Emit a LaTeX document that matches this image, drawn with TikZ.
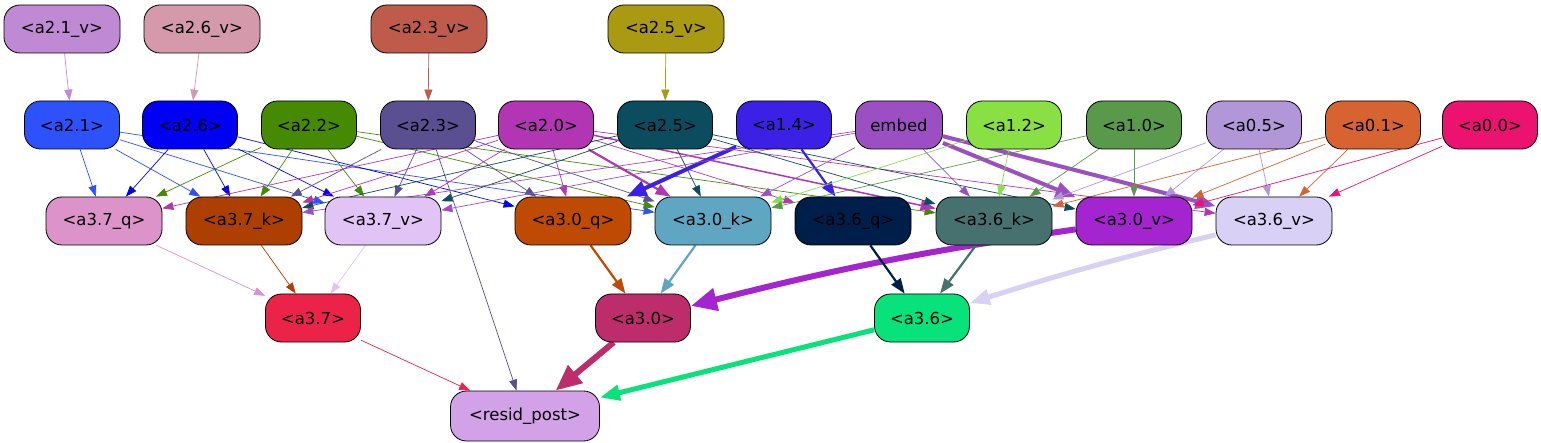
\documentclass[tikz,border=0pt]{standalone}
\usepackage{fontspec}
\setmainfont{DejaVu Sans}
\usetikzlibrary{arrows.meta,backgrounds}
\definecolor{c21v}{HTML}{BF8AD3}
\definecolor{c26v}{HTML}{D49AAB}
\definecolor{c23v}{HTML}{BE5B4B}
\definecolor{c25v}{HTML}{AA9A12}
\definecolor{c21}{HTML}{2D51FA}
\definecolor{c26}{HTML}{0000F4}
\definecolor{c22}{HTML}{468A03}
\definecolor{c23}{HTML}{5A4F91}
\definecolor{c20}{HTML}{B236B3}
\definecolor{c25}{HTML}{0B4D5E}
\definecolor{c14}{HTML}{3D20E6}
\definecolor{cemb}{HTML}{9B4FC3}
\definecolor{c12}{HTML}{89E043}
\definecolor{c10}{HTML}{589A49}
\definecolor{c05}{HTML}{B197D8}
\definecolor{c01}{HTML}{D76430}
\definecolor{c00}{HTML}{EB1270}
\definecolor{c37q}{HTML}{DC93CA}
\definecolor{c37k}{HTML}{AD3F03}
\definecolor{c37v}{HTML}{E2C3F5}
\definecolor{c30q}{HTML}{BF4A03}
\definecolor{c30k}{HTML}{5EA6C1}
\definecolor{c36q}{HTML}{001E4A}
\definecolor{c36k}{HTML}{46716F}
\definecolor{c30v}{HTML}{A424D0}
\definecolor{c36v}{HTML}{D8D0F5}
\definecolor{c37}{HTML}{EC2349}
\definecolor{c30}{HTML}{BD2D6C}
\definecolor{c36}{HTML}{08E27A}
\definecolor{cres}{HTML}{D3A1E8}
\newcommand{\boxw}{95pt}
\newcommand{\wide}{116pt}
\tikzset{
  box/.style={draw=black, line width=0.8pt, rounded corners=16pt, minimum height=48pt,
    minimum width=\boxw, inner sep=0pt, font=\fontsize{16.5}{19}\selectfont},
  thin/.style={-{Triangle[length=11pt,width=8pt]}, line width=0.7pt},
  mid/.style={-{Triangle[length=15pt,width=11pt]}, line width=2.2pt},
  thick/.style={-{Triangle[length=20pt,width=15pt]}, line width=4pt},
  huge/.style={-{Triangle[length=26pt,width=22pt]}, line width=6pt}
}

\begin{document}
\begin{tikzpicture}[x=1pt,y=-1pt]
\useasboundingbox (0,0) rectangle (1541,443);
%top
\node[box, fill=c21v, minimum width=\wide] (a21v) at (62,29) {<a2.1\_v>};
\node[box, fill=c26v, minimum width=\wide] (a26v) at (202,29) {<a2.6\_v>};
\node[box, fill=c23v, minimum width=\wide] (a23v) at (429,29) {<a2.3\_v>};
\node[box, fill=c25v, minimum width=\wide] (a25v) at (666,29) {<a2.5\_v>};
%row 1
\node[box, fill=c21] (a21) at (72,125) {<a2.1>};
\node[box, fill=c26] (a26) at (190,125) {<a2.6>};
\node[box, fill=c22] (a22) at (309,125) {<a2.2>};
\node[box, fill=c23] (a23) at (428,125) {<a2.3>};
\node[box, fill=c20] (a20) at (546,125) {<a2.0>};
\node[box, fill=c25] (a25) at (665,125) {<a2.5>};
\node[box, fill=c14] (a14) at (784,125) {<a1.4>};
\node[box, fill=cemb, minimum width=87pt] (emb) at (899,125) {embed};
\node[box, fill=c12] (a12) at (1014,125) {<a1.2>};
\node[box, fill=c10] (a10) at (1134,125) {<a1.0>};
\node[box, fill=c05] (a05) at (1254,125) {<a0.5>};
\node[box, fill=c01] (a01) at (1373,125) {<a0.1>};
\node[box, fill=c00] (a00) at (1490,125) {<a0.0>};
%row 2
\node[box, fill=c37q, minimum width=\wide] (a37q) at (104,221) {<a3.7\_q>};
\node[box, fill=c37k, minimum width=\wide] (a37k) at (244,221) {<a3.7\_k>};
\node[box, fill=c37v, minimum width=\wide] (a37v) at (383,221) {<a3.7\_v>};
\node[box, fill=c30q, minimum width=\wide] (a30q) at (573,221) {<a3.0\_q>};
\node[box, fill=c30k, minimum width=\wide] (a30k) at (713,221) {<a3.0\_k>};
\node[box, fill=c36q, minimum width=\wide] (a36q) at (853,221) {<a3.6\_q>};
\node[box, fill=c36k, minimum width=\wide] (a36k) at (994,221) {<a3.6\_k>};
\node[box, fill=c30v, minimum width=\wide] (a30v) at (1134,221) {<a3.0\_v>};
\node[box, fill=c36v, minimum width=\wide] (a36v) at (1274,221) {<a3.6\_v>};
%row 3
\node[box, fill=c37] (a37) at (313,318) {<a3.7>};
\node[box, fill=c30] (a30) at (643,318) {<a3.0>};
\node[box, fill=c36] (a36) at (922,318) {<a3.6>};
\node[box, fill=cres, minimum width=149pt, minimum height=50pt] (res) at (525,416) {<resid\_post>};
%edges
\begin{scope}[on background layer]
\draw[thin, c21v] (a21v) -- (a21);
\draw[thin, c26v] (a26v) -- (a26);
\draw[thin, c23v] (a23v) -- (a23);
\draw[thin, c25v] (a25v) -- (a25);
\draw[thin, c21] (a21) -- (a37q);
\draw[thin, c21] (a21) -- (a37k);
\draw[thin, c21] (a21) -- (a37v);
\draw[thin, c21] (a21) -- (a30k);
\draw[thin, c26] (a26) -- (a37q);
\draw[thin, c26] (a26) -- (a37k);
\draw[thin, c26] (a26) -- (a37v);
\draw[thin, c26] (a26) -- (a30q);
\draw[thin, c22] (a22) -- (a37q);
\draw[thin, c22] (a22) -- (a37k);
\draw[thin, c22] (a22) -- (a37v);
\draw[thin, c22] (a22) -- (a30k);
\draw[thin, c22] (a22) -- (a36k);
\draw[thin, c23] (a23) -- (a37k);
\draw[thin, c23] (a23) -- (a37v);
\draw[thin, c23] (a23) -- (a30q);
\draw[thin, c23] (a23) -- (a30k);
\draw[thin, c23] (a23) -- (res);
\draw[thin, c20] (a20) -- (a37q);
\draw[thin, c20] (a20) -- (a37k);
\draw[thin, c20] (a20) -- (a37v);
\draw[thin, c20] (a20) -- (a30q);
\draw[mid, c20] (a20) -- (a30k);
\draw[thin, c20] (a20) -- (a36q);
\draw[mid, line width=1.5pt, c20] (a20) -- (a36k);
\draw[thin, c20] (a20) -- (a36v);
\draw[thin, c25] (a25) -- (a37k);
\draw[thin, c25] (a25) -- (a37v);
\draw[thin, c25] (a25) -- (a30k);
\draw[thin, c25] (a25) -- (a36k);
\draw[thin, c25] (a25) -- (a30v);
\draw[thick, c14] (a14) -- (a30q);
\draw[mid, c14] (a14) -- (a36q);
\draw[thin, cemb] (emb) -- (a37k);
\draw[thin, cemb] (emb) -- (a37v);
\draw[thin, cemb] (emb) -- (a30k);
\draw[thin, cemb] (emb) -- (a36k);
\draw[thick, cemb] (emb) -- (a30v);
\draw[thick, cemb] (emb) -- (a36v);
\draw[thin, c12] (a12) -- (a30k);
\draw[thin, c12] (a12) -- (a36k);
\draw[thin, c10] (a10) -- (a30k);
\draw[thin, c10] (a10) -- (a36k);
\draw[thin, c10] (a10) -- (a30v);
\draw[thin, c05] (a05) -- (a36k);
\draw[thin, c05] (a05) -- (a30v);
\draw[thin, c05] (a05) -- (a36v);
\draw[thin, c01] (a01) -- (a36k);
\draw[thin, c01] (a01) -- (a30v);
\draw[thin, c01] (a01) -- (a36v);
\draw[thin, c00] (a00) -- (a30v);
\draw[thin, c00] (a00) -- (a36v);
%to row 3
\draw[thin, c37q] (a37q) -- (a37);
\draw[thin, c37k] (a37k) -- (a37);
\draw[thin, c37v] (a37v) -- (a37);
\draw[mid, c30q] (a30q) -- (a30);
\draw[mid, c30k] (a30k) -- (a30);
\draw[huge, c30v] (a30v) to[bend right=3] (a30);
\draw[mid, c36q] (a36q) -- (a36);
\draw[mid, c36k] (a36k) -- (a36);
\draw[thick, line width=5pt, c36v] (a36v) to[bend right=2] (a36);
\draw[thin, c37] (a37) -- (res);
\draw[huge, c30] (a30) -- (res);
\draw[thick, line width=5pt, c36] (a36) -- (res);
\end{scope}
\end{tikzpicture}
\end{document}
